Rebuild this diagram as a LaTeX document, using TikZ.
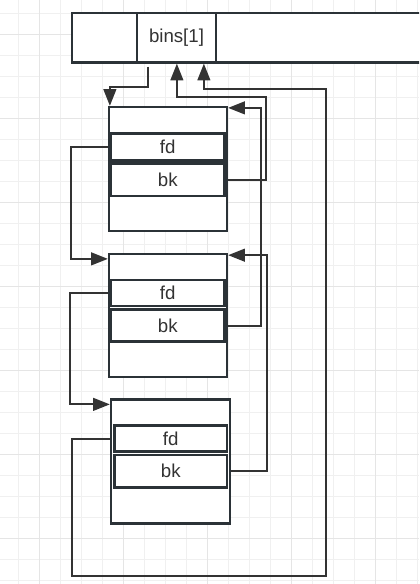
\documentclass[tikz,border=0pt]{standalone}
\usepackage{fontspec}
\setmainfont{Liberation Sans}
\usetikzlibrary{calc,arrows.meta}
\definecolor{boxline}{HTML}{2B3237}
\definecolor{connline}{HTML}{333333}
\definecolor{gridminor}{HTML}{F0F0F0}
\definecolor{gridmajor}{HTML}{E5E5E5}
\begin{document}
\begin{tikzpicture}[x=0.75pt,y=-0.75pt,
  box/.style={draw=boxline, fill=white, line width=1.7pt, rectangle, inner sep=0pt,
    text=connline, font=\fontsize{14}{16}\selectfont},
  conn/.style={draw=connline, line width=1.5pt, -{Triangle[length=12.5pt,width=9.5pt]}},
  gminor/.style={draw=gridminor, line width=0.75pt},
  gmajor/.style={draw=gridmajor, line width=1.1pt}]
\useasboundingbox (0,0) rectangle (419,584);
\clip (0,0) rectangle (419,584);
\fill[white] (0,0) rectangle (419,584);
% grid
\foreach \k in {0,...,19} {\draw[gminor] (18.3+21*\k,0) -- (18.3+21*\k,584);}
\foreach \k in {0,...,27} {\draw[gminor] (0,13.3+21*\k) -- (419,13.3+21*\k);}
\foreach \k in {1,5,9,13,17} {\draw[gmajor] (18.3+21*\k,0) -- (18.3+21*\k,584);}
\foreach \k in {1,5,9,13,17,21,25} {\draw[gmajor] (0,13.3+21*\k) -- (419,13.3+21*\k);}
% top bar
\node[box, minimum width=224*0.75pt, minimum height=49.5*0.75pt] (barR) at (328,37.75) {};
\node[box, minimum width=65*0.75pt, minimum height=49.5*0.75pt] (barL) at (104.5,37.75) {};
\node[box, minimum width=79*0.75pt, minimum height=49.5*0.75pt] (bins) at (176.5,37.75) {bins[1]};
% chunk 1
\node[box, minimum width=118*0.75pt, minimum height=124*0.75pt] (c1) at (168,169) {};
\node[box, minimum width=113.5*0.75pt, minimum height=27*0.75pt] (fd1) at (167.75,147) {fd};
\node[box, minimum width=113.5*0.75pt, minimum height=32.5*0.75pt] (bk1) at (167.75,179.75) {bk};
% chunk 2
\node[box, minimum width=118*0.75pt, minimum height=123*0.75pt] (c2) at (168,315.5) {};
\node[box, minimum width=113.5*0.75pt, minimum height=26*0.75pt] (fd2) at (167.75,293) {fd};
\node[box, minimum width=113.5*0.75pt, minimum height=32*0.75pt] (bk2) at (167.75,325.5) {bk};
% chunk 3
\node[box, minimum width=119*0.75pt, minimum height=124*0.75pt] (c3) at (170.5,461.5) {};
\node[box, minimum width=112.5*0.75pt, minimum height=26*0.75pt] (fd3) at (170.75,438.5) {fd};
\node[box, minimum width=112.5*0.75pt, minimum height=32.5*0.75pt] (bk3) at (170.75,471.25) {bk};
% connectors
\draw[conn] ($(bins.south west)+(12,3)$) |- ($(c1.north west)+(2,-19)$) -- ($(c1.north west)+(2,0)$);
\draw[conn] (bk1.east -| c1.east) -| (265.5,97) -| ($(bins.south west)+(41,0)$);
\draw[conn] (fd3.west -| c3.west) -| (72,576) -| (326,89) -| ($(bins.south west)+(68,0)$);
\draw[conn] (fd1.west -| c1.west) -| ($(c2.north west)+(-37,6)$) -- ($(c2.north west)+(0,6)$);
\draw[conn] (fd2.west -| c2.west) -| ($(c3.north west)+(-40,6)$) -- ($(c3.north west)+(0,6)$);
\draw[conn] (bk2.east -| c2.east) -| ($(c1.north east)+(33,2)$) -- ($(c1.north east)+(0,2)$);
\draw[conn] (bk3.east -| c3.east) -| ($(c2.north east)+(38.5,2.3)$) -- ($(c2.north east)+(0,2.3)$);
\end{tikzpicture}
\end{document}
